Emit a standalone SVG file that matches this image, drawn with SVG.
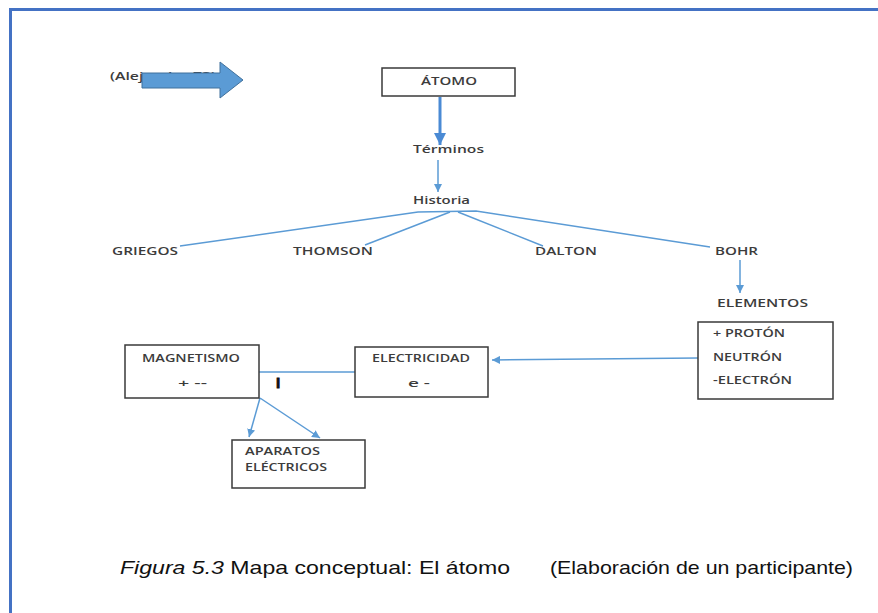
<svg xmlns="http://www.w3.org/2000/svg" width="878" height="613" viewBox="0 0 878 613">
<style>
.t{font-family:"Open Sans","Liberation Sans",sans-serif;font-size:11px;font-weight:600;fill:#3c3c3c;}
.box{fill:#fff;stroke:#3a3a3a;stroke-width:1.5;}
.c{fill:none;stroke:#5b9bd5;stroke-width:1.5;}
.cap{font-family:"Liberation Sans",Arial,sans-serif;font-size:19px;fill:#111;}
</style>
<defs>
<marker id="ah" viewBox="0 0 10 10" refX="10" refY="5" markerWidth="8" markerHeight="8" markerUnits="userSpaceOnUse" orient="auto"><path d="M0,0 L10,5 L0,10 z" fill="#5b9bd5"/></marker>
<marker id="ahb" viewBox="0 0 10 10" refX="10" refY="5" markerWidth="12" markerHeight="12" markerUnits="userSpaceOnUse" orient="auto"><path d="M0,0 L10,5 L0,10 z" fill="#4a8ad4"/></marker>
</defs>
<rect width="878" height="613" fill="#fff"/>
<g id="frame" stroke="#4472c4" stroke-width="3" fill="none">
<line x1="9" y1="9.5" x2="878" y2="9.5"/>
<line x1="10.5" y1="8" x2="10.5" y2="613"/>
</g>
<g id="source-note">
<text class="t" x="110" y="80" textLength="106" lengthAdjust="spacingAndGlyphs">(Alejandro 73)</text>
<polygon points="142,73 220,73 220,62 243,80 220,98 220,88 142,88" fill="#5b9bd5" stroke="#41719c" stroke-width="1"/>
</g>
<g id="connectors">
<line x1="440" y1="97" x2="440" y2="145" stroke="#4a8ad4" stroke-width="3" marker-end="url(#ahb)"/>
<line class="c" x1="438" y1="160" x2="438" y2="192" marker-end="url(#ah)"/>
<path class="c" d="M180,246 L418,212 L476,211 L710,247"/>
<path class="c" d="M365,245 L450,212"/>
<path class="c" d="M543,246 L458,212"/>
<line class="c" x1="740" y1="260" x2="740" y2="293" marker-end="url(#ah)"/>
<line class="c" x1="698" y1="358" x2="492" y2="360" marker-end="url(#ah)"/>
<line class="c" x1="355" y1="372" x2="255" y2="372"/>
<line class="c" x1="260" y1="398" x2="249" y2="437" marker-end="url(#ah)"/>
<line class="c" x1="260" y1="398" x2="320" y2="438" marker-end="url(#ah)"/>
</g>
<g id="atomo">
<rect class="box" x="382" y="68" width="133" height="28"/>
<text class="t" x="421" y="85" textLength="56" lengthAdjust="spacingAndGlyphs">ÁTOMO</text>
</g>
<g id="terminos"><text class="t" x="413" y="153" textLength="71" lengthAdjust="spacingAndGlyphs">Términos</text></g>
<g id="historia"><text class="t" x="413" y="204" textLength="57" lengthAdjust="spacingAndGlyphs">Historia</text></g>
<g id="griegos"><text class="t" x="112" y="255" textLength="66" lengthAdjust="spacingAndGlyphs">GRIEGOS</text></g>
<g id="thomson"><text class="t" x="293" y="255" textLength="80" lengthAdjust="spacingAndGlyphs">THOMSON</text></g>
<g id="dalton"><text class="t" x="535" y="255" textLength="62" lengthAdjust="spacingAndGlyphs">DALTON</text></g>
<g id="bohr"><text class="t" x="715" y="255" textLength="43" lengthAdjust="spacingAndGlyphs">BOHR</text></g>
<g id="elementos"><text class="t" x="717" y="307" textLength="91" lengthAdjust="spacingAndGlyphs">ELEMENTOS</text></g>
<g id="particulas">
<rect class="box" x="698" y="322" width="135" height="77"/>
<text class="t" x="713" y="337" textLength="72" lengthAdjust="spacingAndGlyphs">+ PROTÓN</text>
<text class="t" x="713" y="361" textLength="69" lengthAdjust="spacingAndGlyphs">NEUTRÓN</text>
<text class="t" x="713" y="384" textLength="79" lengthAdjust="spacingAndGlyphs">-ELECTRÓN</text>
</g>
<g id="electricidad">
<rect class="box" x="355" y="347" width="133" height="50"/>
<text class="t" x="372" y="362" textLength="98" lengthAdjust="spacingAndGlyphs">ELECTRICIDAD</text>
<text class="t" x="408" y="387" textLength="22" lengthAdjust="spacingAndGlyphs">e -</text>
</g>
<g id="magnetismo">
<rect class="box" x="125" y="345" width="134" height="53"/>
<text class="t" x="142" y="362" textLength="98" lengthAdjust="spacingAndGlyphs">MAGNETISMO</text>
<text class="t" x="178" y="387" textLength="29" lengthAdjust="spacingAndGlyphs">+ --</text>
</g>
<g id="bar"><text x="278" y="388" text-anchor="middle" font-family="Liberation Sans, sans-serif" font-weight="bold" font-size="15" fill="#111" stroke="#111" stroke-width="0.8">I</text></g>
<g id="aparatos">
<rect class="box" x="232" y="440" width="133" height="48"/>
<text class="t" x="245" y="455" textLength="75" lengthAdjust="spacingAndGlyphs">APARATOS</text>
<text class="t" x="245" y="471" textLength="82" lengthAdjust="spacingAndGlyphs">ELÉCTRICOS</text>
</g>
<g id="caption">
<text class="cap" x="120" y="574" textLength="390" lengthAdjust="spacingAndGlyphs"><tspan font-style="italic">Figura 5.3</tspan> Mapa conceptual: El átomo</text>
<text class="cap" x="550" y="574" textLength="303" lengthAdjust="spacingAndGlyphs">(Elaboración de un participante)</text>
</g>
</svg>
